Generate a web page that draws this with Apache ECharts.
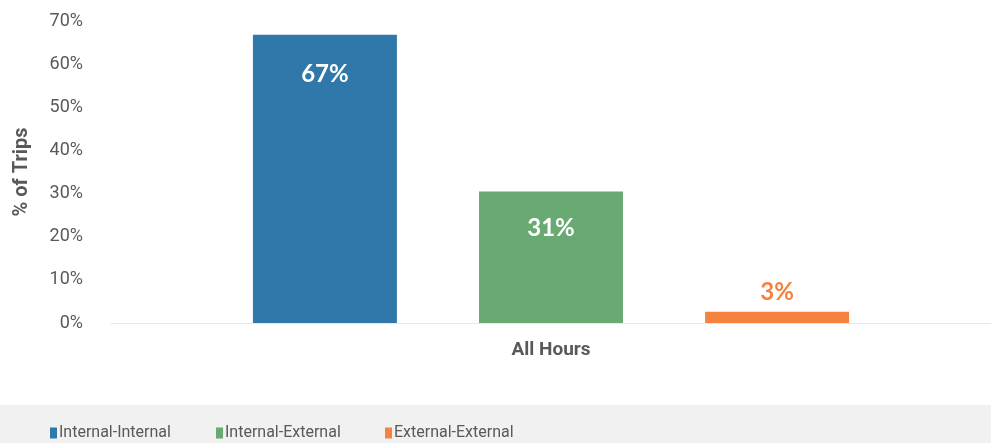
<!DOCTYPE html>
<html>
<head>
<meta charset="utf-8">
<script src="https://cdn.jsdelivr.net/npm/echarts@6/dist/echarts.min.js"></script>
<style>
html,body{margin:0;padding:0;background:#fff;}
#c{width:991px;height:443px;}
</style>
</head>
<body>
<div id="c"></div>
<script>
var categories = ['All Hours'];
var seriesNames = ['Internal-Internal', 'Internal-External', 'External-External'];
var internalInternal = [66.8];
var internalExternal = [30.5];
var externalExternal = [2.6];
var yTicks = [0, 10, 20, 30, 40, 50, 60, 70];
var colors = ['#3077AA', '#69A972', '#F4833F'];

var chart = echarts.init(document.getElementById('c'), null, {renderer: 'canvas'});
var labelFont = 'Lato, "Open Sans", sans-serif';
var legendFont = '"Liberation Sans Narrow", "Arial Narrow", Roboto, sans-serif';
function pct(p){ return Math.round(p.value) + '%'; }
function legendAt(name, left){
  return {
    data: [name], left: left, top: 420,
    itemWidth: 7, itemHeight: 11, icon: 'rect',
    textStyle: {fontFamily: legendFont, fontSize: 16, color: '#595959', padding: [0,0,0,-3]}
  };
}

var option = {
  animation: false,
  backgroundColor: '#ffffff',
  color: colors,
  graphic: [{
    type: 'rect', left: 0, top: 405, z: -10, silent: true,
    shape: {width: 991, height: 38},
    style: {fill: '#F1F1F1'}
  }],
  grid: {left: 111, right: 0, top: 21, bottom: 120, containLabel: false},
  legend: [legendAt(seriesNames[0], 45), legendAt(seriesNames[1], 211), legendAt(seriesNames[2], 380)],
  xAxis: {
    type: 'category',
    data: categories,
    axisLine: {show: true, lineStyle: {color: '#E8E8E8', width: 1}},
    axisTick: {show: false},
    axisLabel: {fontFamily: 'Roboto, sans-serif', fontWeight: 'bold', fontSize: 19, color: '#595959', margin: 18}
  },
  yAxis: {
    type: 'value',
    min: yTicks[0], max: yTicks[yTicks.length - 1], interval: 10,
    name: '% of Trips',
    nameLocation: 'middle',
    nameGap: 79,
    nameTextStyle: {fontFamily: 'Roboto, sans-serif', fontWeight: 'bold', fontSize: 20, color: '#595959'},
    axisLine: {show: false},
    axisTick: {show: false},
    splitLine: {show: false},
    axisLabel: {fontFamily: 'Roboto, sans-serif', fontSize: 18, color: '#595959', margin: 28, padding: [6,0,0,0], formatter: '{value}%'}
  },
  series: [
    {
      name: seriesNames[0], type: 'bar', data: internalInternal,
      barWidth: 144, barGap: '57%',
      itemStyle: {color: colors[0]},
      label: {show: true, position: 'insideTop', distance: 27, formatter: pct, color: '#fff', fontFamily: labelFont, fontWeight: 'bold', fontSize: 24}
    },
    {
      name: seriesNames[1], type: 'bar', data: internalExternal,
      barWidth: 144, barGap: '57%',
      itemStyle: {color: colors[1]},
      label: {show: true, position: 'insideTop', distance: 25, formatter: pct, color: '#fff', fontFamily: labelFont, fontWeight: 'bold', fontSize: 24}
    },
    {
      name: seriesNames[2], type: 'bar', data: externalExternal,
      barWidth: 144, barGap: '57%',
      itemStyle: {color: colors[2]},
      label: {show: true, position: 'top', distance: 8, formatter: pct, color: colors[2], fontFamily: labelFont, fontWeight: 'bold', fontSize: 24}
    }
  ]
};
chart.setOption(option);
</script>
</body>
</html>
